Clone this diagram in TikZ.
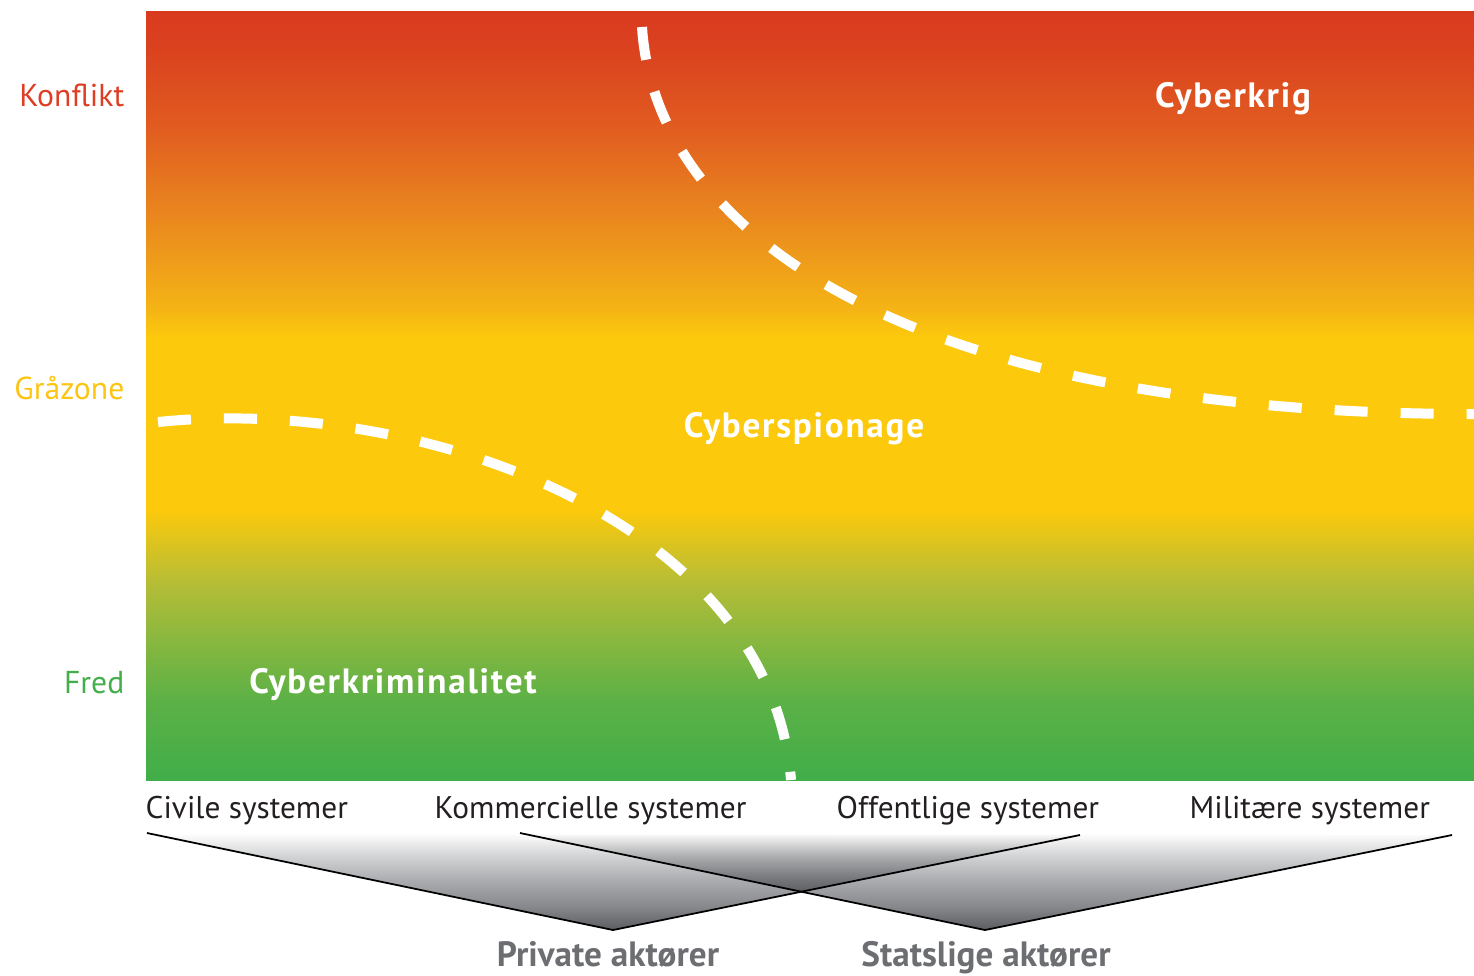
\documentclass[tikz,border=0pt]{standalone}
\usepackage{fontspec}
\setmainfont{PT Sans}
\definecolor{konflikt}{HTML}{DC3F24}
\definecolor{graa}{HTML}{FCC514}
\definecolor{fred}{HTML}{45AE4C}
\definecolor{ink}{HTML}{231F20}
\definecolor{aktor}{HTML}{6D6E71}
\definecolor{k0}{HTML}{5C5D61}
\definecolor{k1}{HTML}{88898C}
\definecolor{k2}{HTML}{A9AAAD}
\definecolor{k3}{HTML}{D0D1D2}
\definecolor{g0}{HTML}{41AE49}
\definecolor{g1}{HTML}{5CB146}
\definecolor{g2}{HTML}{8EB83E}
\definecolor{g3}{HTML}{B5BD36}
\definecolor{y0}{HTML}{FCC90C}
\definecolor{o0}{HTML}{F5B515}
\definecolor{o1}{HTML}{EE9C1B}
\definecolor{o2}{HTML}{E77C1F}
\definecolor{r0}{HTML}{E15C20}
\definecolor{r1}{HTML}{DB451F}
\definecolor{r2}{HTML}{D93A1F}
\pgfdeclareverticalshading{trussel}{100bp}{color(0bp)=(g0); color(25bp)=(g0);
  color(30.2bp)=(g1); color(34.55bp)=(g2); color(37.8bp)=(g3);
  color(42.55bp)=(y0); color(53.8bp)=(y0); color(55.55bp)=(o0);
  color(58.8bp)=(o1); color(63.15bp)=(o2); color(67.45bp)=(r0);
  color(71.8bp)=(r1); color(75bp)=(r2); color(100bp)=(r2)}
\pgfdeclareverticalshading{kileshade}{100bp}{color(0bp)=(k0); color(25bp)=(k0);
  color(37.5bp)=(k1); color(50bp)=(k2); color(62.5bp)=(k3);
  color(75bp)=(white); color(100bp)=(white)}
\usetikzlibrary{positioning}

\begin{document}
\begin{tikzpicture}[x=0.01cm,y=-0.01cm,
    level/.style={anchor=base east,inner sep=0pt,font=\fontsize{9}{11}\selectfont},
    zone/.style={anchor=base,inner sep=0pt,text=white,
      font=\fontsize{10}{12}\selectfont\bfseries\addfontfeatures{LetterSpace=5}},
    sys/.style={anchor=base west,inner sep=0pt,text=ink,font=\fontsize{8.9}{11}\selectfont},
    actor/.style={anchor=base,inner sep=0pt,text=aktor,font=\fontsize{10}{12}\selectfont\bfseries},
    grense/.style={white,line width=1mm,dash pattern=on 3.3mm off 3.3mm},
    kile/.style={shading=kileshade,blend mode=multiply},
    kant/.style={black,line width=0.5pt}]
  \useasboundingbox (0,0) rectangle (1474,975);

  % field from fred to konflikt
  \shade[shading=trussel] (146,11) rectangle (1474,780);

  % borders between the zones
  \draw[grense] (642,27) .. controls (655,230) and (900,414) .. (1474,414);
  \draw[grense] (158,422) .. controls (420,395) and (770,520) .. (791,780);

  \node[level,text=konflikt] (konflikt) at (125,106) {Konflikt};
  \node[level,text=graa] (graazone) at (125,399) {Gråzone};
  \node[level,text=fred] (fred) at (125,693) {Fred};

  \node[zone] (krig) at (1233,107) {Cyberkrig};
  \node[zone] (spion) at (804,437) {Cyberspionage};
  \node[zone] (krim) at (393,693) {Cyberkriminalitet};

  \node[sys] (civil) at (145,818) {Civile systemer};
  \node[sys] (komm) at (434,818) {Kommercielle systemer};
  \node[sys] (offent) at (836,818) {Offentlige systemer};
  \node[sys] (milit) at (1189,818) {Militære systemer};

  % wedges down to the actors
  \coordinate (c1) at (147,833);
  \coordinate (c2) at (520,833);
  \coordinate (c3) at (1080,835);
  \coordinate (c4) at (1452,835);
  \coordinate (p) at (613,930);
  \coordinate (s) at (985,930);
  \shade[kile] (c1) -- (p) -- (c3) -- cycle;
  \shade[kile] (c2) -- (s) -- (c4) -- cycle;
  \draw[kant] (c1) -- (p) -- (c3);
  \draw[kant] (c2) -- (s) -- (c4);

  \node[actor] (privat) at (608,966) {Private aktører};
  \node[actor] (statslig) at (986,966) {Statslige aktører};
\end{tikzpicture}
\end{document}
